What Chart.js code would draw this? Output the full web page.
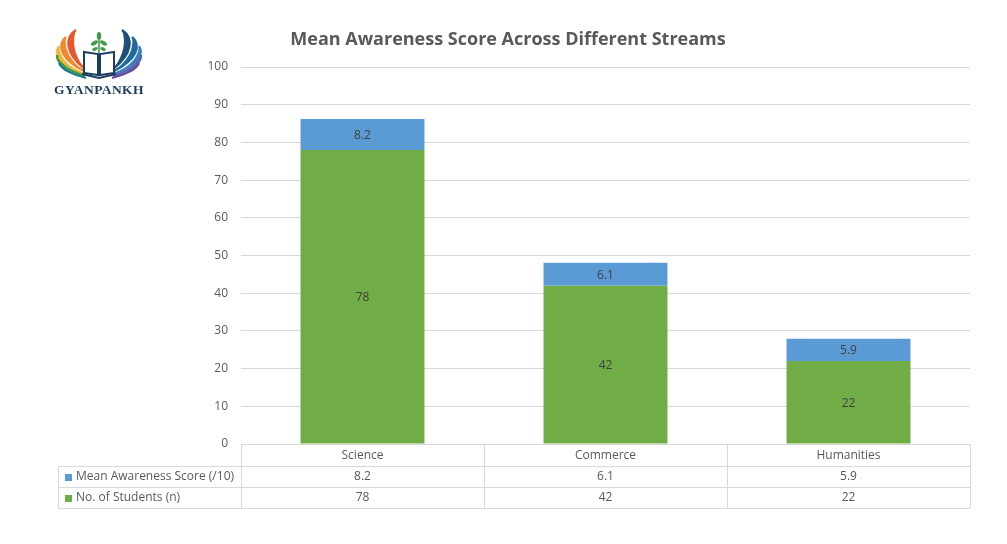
<!DOCTYPE html>
<html>
<head>
<meta charset="utf-8">
<script src="https://cdn.jsdelivr.net/npm/chart.js@4.4.1/dist/chart.umd.min.js"></script>
<style>
  html,body{margin:0;padding:0;background:#fff;}
  #wrap{position:relative;width:1007px;height:544px;}
  canvas{position:absolute;left:0;top:0;}
  #logo{position:absolute;left:54px;top:28px;width:90px;height:52px;}
  #logoText{position:absolute;left:49px;top:82px;width:100px;text-align:center;font-family:"Liberation Serif","DejaVu Serif",serif;font-weight:bold;font-size:13.5px;line-height:16px;color:#1d3d5f;letter-spacing:0.4px;}
</style>
</head>
<body>
<div id="wrap">
  <canvas id="c" width="1007" height="544"></canvas>
  <svg id="logo" viewBox="0 0 90 52">
    <!-- left wing feathers -->
    <path d="M22 2 C10 10 12 26 30 40 C20 26 18 14 22 2 Z" fill="#e8582a"/>
    <path d="M12 9 C2 18 8 32 30 43 C16 32 10 22 12 9 Z" fill="#f0892e"/>
    <path d="M5 18 C-1 28 10 38 30 46 C14 38 6 30 5 18 Z" fill="#f2b431"/>
    <path d="M3 27 C2 36 14 42 31 48 C16 42 8 36 3 27 Z" fill="#3f9a4a"/>
    <path d="M5 35 C8 42 18 46 32 50 C18 45 10 41 5 35 Z" fill="#1f7a8c"/>
    <path d="M22 2 C10 10 12 26 30 40" stroke="#e8582a" stroke-width="2.4" fill="none"/>
    <path d="M12 9 C2 18 8 32 30 43" stroke="#f0892e" stroke-width="2.4" fill="none"/>
    <path d="M5 18 C-1 28 10 38 30 46" stroke="#f2b431" stroke-width="2.4" fill="none"/>
    <path d="M3 27 C2 36 14 42 31 48" stroke="#3f9a4a" stroke-width="2.4" fill="none"/>
    <path d="M5 35 C8 42 18 46 32 50" stroke="#1f7a8c" stroke-width="2.2" fill="none"/>
    <!-- right wing feathers -->
    <path d="M68 2 C80 10 78 26 60 40 C70 26 72 14 68 2 Z" fill="#1d4f7a"/>
    <path d="M78 9 C88 18 82 32 60 43 C74 32 80 22 78 9 Z" fill="#1f6a9a"/>
    <path d="M85 18 C91 28 80 38 60 46 C76 38 84 30 85 18 Z" fill="#3a7fc0"/>
    <path d="M87 27 C88 36 76 42 59 48 C74 42 82 36 87 27 Z" fill="#5468b0"/>
    <path d="M85 35 C82 42 72 46 58 50 C72 45 80 41 85 35 Z" fill="#6a4a9c"/>
    <path d="M68 2 C80 10 78 26 60 40" stroke="#1d4f7a" stroke-width="2.4" fill="none"/>
    <path d="M78 9 C88 18 82 32 60 43" stroke="#1f6a9a" stroke-width="2.4" fill="none"/>
    <path d="M85 18 C91 28 80 38 60 46" stroke="#3a7fc0" stroke-width="2.4" fill="none"/>
    <path d="M87 27 C88 36 76 42 59 48" stroke="#5468b0" stroke-width="2.4" fill="none"/>
    <path d="M85 35 C82 42 72 46 58 50" stroke="#6a4a9c" stroke-width="2.2" fill="none"/>
    <!-- book -->
    <path d="M30 24 L44 26 L44 47 L30 45 Z" stroke="#1d3d5f" stroke-width="2" fill="#fff"/>
    <path d="M60 24 L46 26 L46 47 L60 45 Z" stroke="#1d3d5f" stroke-width="2" fill="#fff"/>
    <path d="M28 46 L45 50 L62 46" stroke="#1d3d5f" stroke-width="2" fill="none"/>
    <!-- plant -->
    <path d="M45 25 L45 12" stroke="#3f9a4a" stroke-width="1.6"/>
    <ellipse cx="45" cy="8" rx="2.2" ry="4" fill="#3f9a4a"/>
    <ellipse cx="40.5" cy="15" rx="3.8" ry="1.9" fill="#3f9a4a" transform="rotate(-30 40.5 15)"/>
    <ellipse cx="49.5" cy="15" rx="3.8" ry="1.9" fill="#3f9a4a" transform="rotate(30 49.5 15)"/>
    <ellipse cx="41" cy="21" rx="3" ry="1.6" fill="#3f9a4a" transform="rotate(-25 41 21)"/>
    <ellipse cx="49" cy="21" rx="3" ry="1.6" fill="#3f9a4a" transform="rotate(25 49 21)"/>
  </svg>
  <div id="logoText">GYANPANKH</div>
</div>
<script>
const categories = ["Science", "Commerce", "Humanities"];
const studentCounts = [78, 42, 22];
const awarenessScores = [8.2, 6.1, 5.9];
const yTicks = [0, 10, 20, 30, 40, 50, 60, 70, 80, 90, 100];
const seriesNames = ["No. of Students (n)", "Mean Awareness Score (/10)"];
const chartTitle = "Mean Awareness Score Across Different Streams";

const FONT = '"Open Sans", "Noto Sans", sans-serif';
const TXT = '#595959';
const GRID = '#d9d9d9';
const GREEN = '#70AD47';
const BLUE = '#5B9BD5';

const titlePlugin = {
  id: 'titleP',
  afterDraw(chart) {
    const ctx = chart.ctx;
    ctx.save();
    ctx.font = 'bold 18px ' + FONT;
    ctx.fillStyle = TXT;
    ctx.textAlign = 'center';
    ctx.textBaseline = 'middle';
    ctx.fillText(chartTitle, 508, 40);
    ctx.restore();
  }
};

const labelPlugin = {
  id: 'labelsP',
  afterDatasetsDraw(chart) {
    const ctx = chart.ctx;
    ctx.save();
    ctx.font = '12px ' + FONT;
    ctx.fillStyle = '#404040';
    ctx.textAlign = 'center';
    ctx.textBaseline = 'middle';
    chart.data.datasets.forEach((ds, di) => {
      const meta = chart.getDatasetMeta(di);
      meta.data.forEach((el, i) => {
        ctx.fillText(String(ds.data[i]), el.x, (el.y + el.base) / 2 + 1);
      });
    });
    ctx.restore();
  }
};

const tablePlugin = {
  id: 'tableP',
  afterDraw(chart) {
    const ctx = chart.ctx;
    const xs = chart.scales.x;
    const area = chart.chartArea;
    const n = categories.length;
    const catW = (xs.right - xs.left) / n;
    const rowH = 21;
    const tableLeft = 58;
    const top = area.bottom;
    const r1 = top + 22;
    const r2 = r1 + rowH;
    const r3 = r2 + rowH;
    ctx.save();
    ctx.strokeStyle = GRID;
    ctx.lineWidth = 1;
    ctx.beginPath();
    for (let i = 0; i <= n; i++) {
      const x = Math.round(xs.left + i * catW) + 0.5;
      ctx.moveTo(x, top); ctx.lineTo(x, r3);
    }
    [r1, r2, r3].forEach(y => {
      const yy = Math.floor(y) + 0.5;
      ctx.moveTo(tableLeft, yy); ctx.lineTo(xs.right, yy);
    });
    ctx.moveTo(tableLeft + 0.5, r1); ctx.lineTo(tableLeft + 0.5, r3);
    ctx.stroke();

    const rows = [
      {name: seriesNames[1], color: BLUE, vals: awarenessScores},
      {name: seriesNames[0], color: GREEN, vals: studentCounts}
    ];
    ctx.font = '12px ' + FONT;
    ctx.textBaseline = 'middle';
    rows.forEach((row, ri) => {
      const yc = r1 + rowH * ri + rowH / 2;
      ctx.fillStyle = row.color;
      ctx.fillRect(65, Math.round(yc) - 3, 7, 7);
      ctx.fillStyle = TXT;
      ctx.textAlign = 'left';
      ctx.fillText(row.name, 76, yc);
      ctx.textAlign = 'center';
      row.vals.forEach((v, i) => {
        ctx.fillText(String(v), xs.getPixelForValue(i), yc);
      });
    });
    ctx.restore();
  }
};

new Chart(document.getElementById('c'), {
  type: 'bar',
  data: {
    labels: categories,
    datasets: [
      {label: seriesNames[0], data: studentCounts, backgroundColor: GREEN, stack: 's'},
      {label: seriesNames[1], data: awarenessScores, backgroundColor: BLUE, stack: 's'}
    ]
  },
  options: {
    responsive: false,
    animation: false,
    devicePixelRatio: 1,
    layout: {padding: {left: 0, right: 37, top: 67, bottom: 0}},
    datasets: {bar: {categoryPercentage: 1, barPercentage: 0.51}},
    plugins: {legend: {display: false}, tooltip: {enabled: false}, title: {display: false}},
    scales: {
      x: {
        stacked: true,
        grid: {display: false, drawTicks: false},
        border: {display: false},
        ticks: {color: TXT, font: {size: 12, family: FONT}, padding: 4},
        afterFit(s) { s.height = 100; }
      },
      y: {
        stacked: true,
        min: 0, max: 100,
        afterBuildTicks(s) { s.ticks = yTicks.map(v => ({value: v})); },
        grid: {color: GRID, drawTicks: false},
        border: {display: false},
        ticks: {color: TXT, font: {size: 12, family: FONT}, padding: 13},
        afterFit(s) { s.width = 241; }
      }
    }
  },
  plugins: [labelPlugin, tablePlugin, titlePlugin]
});
</script>
</body>
</html>
